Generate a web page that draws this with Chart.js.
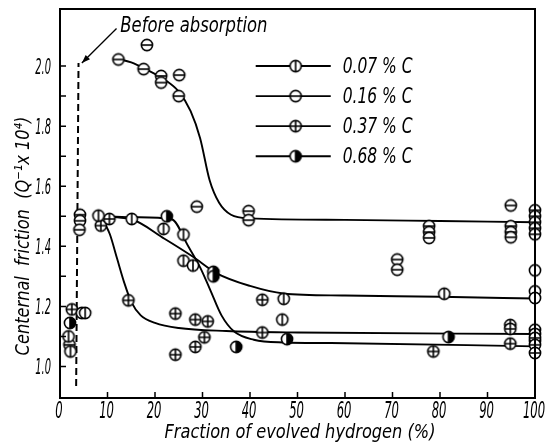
<!DOCTYPE html>
<html>
<head>
<meta charset="utf-8">
<script src="https://cdn.jsdelivr.net/npm/chart.js@4.4.1/dist/chart.umd.min.js"></script>
<style>
  body { margin: 0; background: #fff; }
  canvas { display: block; }
</style>
</head>
<body>
<canvas id="frictionChart" width="551" height="445"></canvas>
<script>
// tick labels
var xTicks = [0, 10, 20, 30, 40, 50, 60, 70, 80, 90, 100];
var yTicks = [1.0, 1.2, 1.4, 1.6, 1.8, 2.0];
var yMinorTicks = [1.1, 1.3, 1.5, 1.7, 1.9];

// series names
var seriesNames = ['0.07 % C', '0.16 % C', '0.37 % C', '0.68 % C'];

// 0.07 % C  (circle, vertical bar)
var p007x = [1.8, 2.2, 4.6, 5.3, 8.1, 15.1, 21.8, 26.0, 26.0, 28.0, 47.1, 46.8, 80.9, 100, 100, 100];
var p007y = [1.10, 1.05, 1.178, 1.178, 1.502, 1.491, 1.458, 1.439, 1.352, 1.336, 1.225, 1.156, 1.242, 1.32, 1.25, 1.228];
var c007x = [8, 15, 22, 28, 33, 40, 47, 60, 80, 100];
var c007y = [1.50, 1.49, 1.425, 1.365, 1.31, 1.268, 1.243, 1.236, 1.232, 1.226];

// 0.16 % C  (circle, horizontal bar)
var p016x = [2.0, 4.2, 4.2, 4.1, 12.3, 18.3, 17.6, 21.3, 21.3, 25.1, 25.0, 28.8, 39.7, 39.7, 71.0, 71.0, 77.7, 77.7, 77.7, 94.9, 94.9, 94.9, 94.9, 100, 100, 100, 100, 100];
var p016y = [1.072, 1.505, 1.485, 1.455, 2.022, 2.07, 1.99, 1.967, 1.945, 1.97, 1.90, 1.532, 1.517, 1.487, 1.356, 1.322, 1.467, 1.447, 1.428, 1.536, 1.467, 1.447, 1.43, 1.52, 1.50, 1.48, 1.46, 1.44];
var c016x = [12, 15, 18, 22, 25, 27.5, 29.5, 31.5, 33.5, 36, 40, 60, 80, 100];
var c016y = [2.025, 2.012, 1.99, 1.955, 1.915, 1.85, 1.76, 1.62, 1.545, 1.505, 1.493, 1.488, 1.484, 1.48];

// 0.37 % C  (circle, cross)
var p037x = [2.5, 8.6, 10.4, 14.4, 24.3, 24.3, 28.5, 31.1, 30.4, 28.5, 42.6, 42.6, 78.6, 94.8, 94.8, 94.8, 100, 100, 100, 100, 100];
var p037y = [1.19, 1.469, 1.491, 1.22, 1.176, 1.039, 1.156, 1.15, 1.097, 1.065, 1.222, 1.113, 1.05, 1.138, 1.125, 1.076, 1.122, 1.108, 1.095, 1.072, 1.045];
var c037x = [9.3, 10.5, 12, 13.5, 15, 17, 20, 25, 35, 50, 100];
var c037y = [1.48, 1.44, 1.36, 1.28, 1.215, 1.17, 1.145, 1.128, 1.118, 1.113, 1.108];

// 0.68 % C  (half filled circle)
var p068x = [2.1, 22.5, 32.3, 32.3, 37.1, 47.8, 81.8, 100];
var p068y = [1.145, 1.50, 1.315, 1.30, 1.065, 1.091, 1.098, 1.085];
var c068x = [9.5, 16, 23.5, 27, 29.5, 31.6, 34, 36.6, 40.8, 47, 57, 100];
var c068y = [1.50, 1.497, 1.49, 1.40, 1.33, 1.256, 1.17, 1.117, 1.089, 1.08, 1.078, 1.067];

// "before absorption" dashed line
var beforeX = [3.4, 3.9];
var beforeY = [0.935, 2.01];

function zip(xs, ys) {
    return xs.map(function(x, i) { return { x: x, y: ys[i] }; });
}

function makeMarker(kind) {
    var c = document.createElement('canvas');
    c.width = 16;
    c.height = 16;
    var g = c.getContext('2d');
    var cx = 8, cy = 8, r = 5.6;
    g.lineWidth = 1.6;
    g.strokeStyle = '#000';
    g.fillStyle = '#fff';
    g.beginPath();
    g.arc(cx, cy, r, 0, Math.PI * 2);
    g.fill();
    if (kind === 'half') {
        g.fillStyle = '#000';
        g.beginPath();
        g.arc(cx, cy, r, -Math.PI / 2, Math.PI / 2);
        g.closePath();
        g.fill();
    }
    g.beginPath();
    g.arc(cx, cy, r, 0, Math.PI * 2);
    g.stroke();
    g.beginPath();
    if (kind === 'v' || kind === 'x' || kind === 'half') {
        g.moveTo(cx, cy - r);
        g.lineTo(cx, cy + r);
    }
    if (kind === 'h' || kind === 'x') {
        g.moveTo(cx - r, cy);
        g.lineTo(cx + r, cy);
    }
    g.stroke();
    return c;
}

var markers = [makeMarker('v'), makeMarker('h'), makeMarker('x'), makeMarker('half')];

var FONT = "'DejaVu Sans Condensed', 'Liberation Sans Narrow', sans-serif";

function pointSet(data, marker) {
    return {
        data: data,
        pointStyle: marker,
        pointRadius: 5,
        showLine: false,
        clip: false,
        order: 0
    };
}

function curveSet(data) {
    return {
        data: data,
        showLine: true,
        pointRadius: 0,
        borderColor: '#000',
        borderWidth: 1.9,
        cubicInterpolationMode: 'monotone',
        clip: false,
        order: 1
    };
}

// squeezed italic text, the scan uses a narrow typeface
function squeezeText(ctx, text, x, y, align, sx, size, weight) {
    ctx.save();
    ctx.font = 'italic ' + (weight || 'normal') + ' ' + size + 'px ' + FONT;
    ctx.textAlign = align;
    ctx.textBaseline = 'middle';
    ctx.translate(x, y);
    ctx.scale(sx, 1);
    ctx.fillText(text, 0, 0);
    ctx.restore();
}

var decorPlugin = {
    id: 'decor',
    afterDraw: function(chart) {
        var ctx = chart.ctx;
        var xs = chart.scales.x, ys = chart.scales.y;
        var area = chart.chartArea;
        ctx.save();
        ctx.strokeStyle = '#000';
        ctx.fillStyle = '#000';

        // frame
        ctx.lineWidth = 2;
        ctx.strokeRect(area.left, area.top, area.right - area.left, area.bottom - area.top);

        // inward ticks
        ctx.lineWidth = 1.5;
        ctx.beginPath();
        xTicks.forEach(function(v) {
            var px = xs.getPixelForValue(v);
            ctx.moveTo(px, area.bottom);
            ctx.lineTo(px, area.bottom - 6);
        });
        yTicks.concat(yMinorTicks).forEach(function(v) {
            var py = ys.getPixelForValue(v);
            ctx.moveTo(area.left, py);
            ctx.lineTo(area.left + 6, py);
        });
        ctx.stroke();

        // tick labels
        xTicks.forEach(function(v) {
            squeezeText(ctx, String(v), xs.getPixelForValue(v) - 1, area.bottom + 14, 'center', 0.56, 23);
        });
        yTicks.forEach(function(v) {
            squeezeText(ctx, v.toFixed(1), area.left - 9, ys.getPixelForValue(v) + 2, 'right', 0.5, 22);
        });

        // legend inside the plot
        var legY = [2.0, 1.9, 1.8, 1.7];
        seriesNames.forEach(function(name, i) {
            var py = ys.getPixelForValue(legY[i]);
            var x0 = xs.getPixelForValue(41.2), x1 = xs.getPixelForValue(57);
            var xm = xs.getPixelForValue(49.6);
            ctx.lineWidth = 1.9;
            ctx.beginPath();
            ctx.moveTo(x0, py);
            ctx.lineTo(x1, py);
            ctx.stroke();
            var m = markers[i];
            ctx.drawImage(m, xm - m.width / 2, py - m.height / 2);
            squeezeText(ctx, name, xs.getPixelForValue(59.5), py + 1, 'left', 0.82, 21);
        });

        // before absorption note with arrow
        squeezeText(ctx, 'Before absorption', xs.getPixelForValue(12.7), ys.getPixelForValue(2.13), 'left', 0.87, 21);
        var ax0 = xs.getPixelForValue(11.9), ay0 = ys.getPixelForValue(2.125);
        var ax1 = xs.getPixelForValue(4.6), ay1 = ys.getPixelForValue(2.01);
        ctx.lineWidth = 1.3;
        ctx.beginPath();
        ctx.moveTo(ax0, ay0);
        ctx.lineTo(ax1, ay1);
        ctx.stroke();
        var ang = Math.atan2(ay1 - ay0, ax1 - ax0);
        ctx.beginPath();
        ctx.moveTo(ax1, ay1);
        ctx.lineTo(ax1 - 9 * Math.cos(ang - 0.35), ay1 - 9 * Math.sin(ang - 0.35));
        ctx.lineTo(ax1 - 9 * Math.cos(ang + 0.35), ay1 - 9 * Math.sin(ang + 0.35));
        ctx.closePath();
        ctx.fill();

        // axis titles
        squeezeText(ctx, 'Fraction of evolved hydrogen (%)', 300, 433, 'center', 0.9, 20);
        ctx.save();
        ctx.translate(24, 236);
        ctx.rotate(-Math.PI / 2);
        squeezeText(ctx, 'Centernal  friction  (Q\u207B\u00B9x 10\u2074)', 0, 0, 'center', 0.9, 20);
        ctx.restore();

        ctx.restore();
    }
};

var ctx = document.getElementById('frictionChart');
var chart = new Chart(ctx.getContext('2d'), {
    type: 'scatter',
    data: {
        datasets: [
            pointSet(zip(p007x, p007y), markers[0]),
            pointSet(zip(p016x, p016y), markers[1]),
            pointSet(zip(p037x, p037y), markers[2]),
            pointSet(zip(p068x, p068y), markers[3]),
            curveSet(zip(c007x, c007y)),
            curveSet(zip(c016x, c016y)),
            curveSet(zip(c037x, c037y)),
            curveSet(zip(c068x, c068y)),
            {
                data: zip(beforeX, beforeY),
                showLine: true,
                pointRadius: 0,
                borderColor: '#000',
                borderWidth: 2,
                borderDash: [7, 4],
                order: 1
            }
        ]
    },
    options: {
        responsive: false,
        animation: false,
        layout: {
            padding: { top: 9, right: 16, left: 0, bottom: 0 }
        },
        scales: {
            x: {
                type: 'linear',
                min: 0,
                max: 100,
                afterFit: function(scale) { scale.height = 47; },
                afterBuildTicks: function(scale) {
                    scale.ticks = xTicks.map(function(v) { return { value: v }; });
                },
                ticks: { display: false },
                grid: { drawOnChartArea: false, drawTicks: false },
                border: { color: '#000', width: 2 }
            },
            y: {
                type: 'linear',
                min: 0.895,
                max: 2.19,
                afterFit: function(scale) { scale.width = 60; },
                afterBuildTicks: function(scale) {
                    scale.ticks = yTicks.map(function(v) { return { value: v }; });
                },
                ticks: { display: false },
                grid: { drawOnChartArea: false, drawTicks: false },
                border: { color: '#000', width: 2 }
            }
        },
        plugins: {
            legend: { display: false },
            tooltip: { enabled: false }
        }
    },
    plugins: [decorPlugin]
});
</script>
</body>
</html>
